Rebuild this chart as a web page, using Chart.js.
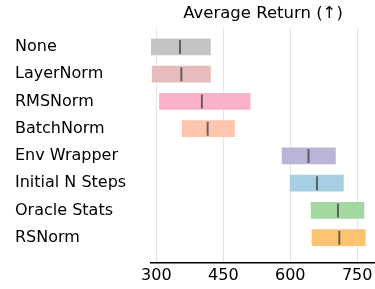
<!DOCTYPE html>
<html>
<head>
<meta charset="utf-8">
<script src="https://cdn.jsdelivr.net/npm/chart.js@4"></script>
<style>
  html, body { margin: 0; padding: 0; background: #fff; }
  #wrap { width: 375px; height: 289px; }
</style>
</head>
<body>
<div id="wrap"><canvas id="c" width="375" height="289"></canvas></div>
<script>
const categories = ["None", "LayerNorm", "RMSNorm", "BatchNorm", "Env Wrapper", "Initial N Steps", "Oracle Stats", "RSNorm"];
const lowValues = [288, 290, 306, 357, 581, 599, 646, 648];
const highValues = [422, 422, 511, 476, 702, 720, 766, 769];
const medianValues = [353, 356, 402, 415, 641, 660, 707, 710];
const xTickValues = [300, 450, 600, 750];
const barColors = ["#c4c4c4", "#e6bcbc", "#fbb2c8", "#fdc5ad", "#b8b5d8", "#a7cfe4", "#a3d9a0", "#fdc370"];
const titleText = "Average Return (↑)";

const FONT = "'DejaVu Sans', sans-serif";

const rangeData = categories.map((c, i) => ({ x: [lowValues[i], highValues[i]], y: i }));
const medianData = categories.map((c, i) => ({ x: medianValues[i], y: i }));

new Chart(document.getElementById('c'), {
  data: {
    datasets: [
      {
        type: 'bar',
        indexAxis: 'y',
        data: rangeData,
        backgroundColor: barColors,
        borderWidth: 0,
        barPercentage: 0.61,
        categoryPercentage: 1.0,
        xAxisID: 'x',
        yAxisID: 'y',
        order: 2
      },
      {
        type: 'scatter',
        data: medianData,
        pointStyle: 'line',
        rotation: 90,
        radius: 7,
        borderWidth: 2,
        borderColor: 'rgba(70,70,70,0.8)',
        backgroundColor: 'rgba(70,70,70,0.8)',
        xAxisID: 'x',
        yAxisID: 'y',
        order: 1
      }
    ]
  },
  options: {
    responsive: false,
    animation: false,
    events: [],
    layout: { autoPadding: false, padding: { left: 15, right: 0, top: 0, bottom: 0 } },
    plugins: {
      legend: { display: false },
      tooltip: { enabled: false },
      title: {
        display: true,
        text: titleText,
        fullSize: false,
        color: '#000',
        font: { family: FONT, size: 16.5, weight: 'normal' },
        padding: { top: 4, bottom: 3.5 }
      }
    },
    scales: {
      x: {
        type: 'linear',
        position: 'bottom',
        offset: false,
        min: 288,
        max: 790,
        afterBuildTicks: (s) => { s.ticks = xTickValues.map(v => ({ value: v })); },
        afterFit: (s) => { s.height = 26.3; s.paddingLeft = 0; s.paddingRight = 0; },
        ticks: {
          color: '#000',
          font: { family: FONT, size: 16 },
          padding: 3.5,
          maxRotation: 0,
          autoSkip: false
        },
        grid: { display: true, color: '#e4e4e4', lineWidth: 1, drawTicks: false },
        border: { display: true, color: '#000', width: 1.5 }
      },
      y: {
        type: 'linear',
        position: 'left',
        offset: false,
        reverse: true,
        min: -0.72,
        max: 7.92,
        afterBuildTicks: (s) => { s.ticks = categories.map((c, i) => ({ value: i })); },
        afterFit: (s) => { s.width = 136; s.paddingTop = 0; s.paddingBottom = 0; },
        ticks: {
          color: '#000',
          font: { family: FONT, size: 16 },
          crossAlign: 'far',
          padding: 20,
          autoSkip: false,
          callback: (v) => categories[v]
        },
        grid: { display: false, drawTicks: false },
        border: { display: false }
      }
    }
  }
});
</script>
</body>
</html>
